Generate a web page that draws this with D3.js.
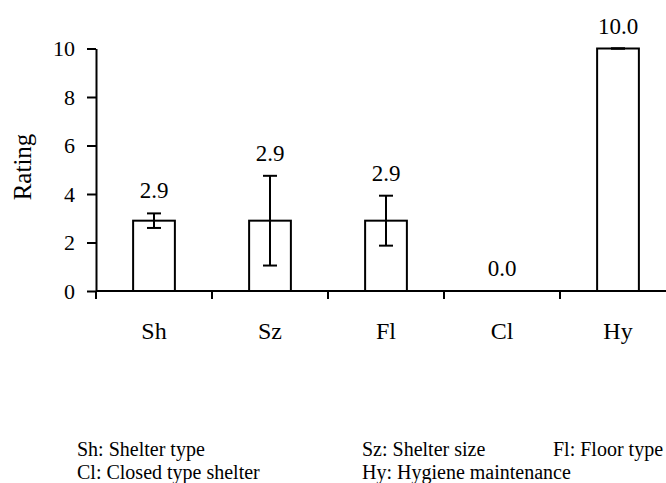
<!DOCTYPE html>
<html>
<head>
<meta charset="utf-8">
<script src="https://cdn.jsdelivr.net/npm/d3@7"></script>
<style>
  html, body { margin: 0; padding: 0; background: #fff; }
  svg { display: block; }
  svg text { font-family: "Liberation Serif", "Times New Roman", Times, "DejaVu Serif", serif !important; }
</style>
</head>
<body>
<svg id="chart" width="666" height="483"></svg>
<script>
// ---- data ----
const categories = ["Sh", "Sz", "Fl", "Cl", "Hy"];
const ratings = [2.9, 2.9, 2.9, 0.0, 10.0];
const errors = [0.3, 1.85, 1.03, 0, 0];
const yTicks = [0, 2, 4, 6, 8, 10];
const legendLines = [
  ["Sh: Shelter type", "Sz: Shelter size", "Fl: Floor type"],
  ["Cl: Closed type shelter", "Hy: Hygiene maintenance"]
];
const yLabel = "Rating";

(function () {
  const svg = d3.select("#chart");
  const mLeft = 96, mRight = 676, mTop = 48.5, mBottom = 291;

  const x = d3.scaleBand().domain(categories).range([mLeft, mRight])
    .paddingInner(0.64).paddingOuter(0.32);
  const y = d3.scaleLinear().domain([0, 10]).range([mBottom, mTop]);

  const data = categories.map((c, i) => ({ c, v: ratings[i], e: errors[i] }));

  // y axis
  const yAxis = svg.append("g").attr("transform", `translate(${mLeft},0)`)
    .call(d3.axisLeft(y).tickValues(yTicks).tickFormat(d3.format("d"))
      .tickSizeInner(9).tickSizeOuter(0).tickPadding(12));
  yAxis.attr("font-family", null);
  yAxis.selectAll("path, line").attr("stroke", "#000").attr("stroke-width", 2);
  yAxis.selectAll("text").attr("font-size", 22).attr("fill", "#000");

  // x axis line + boundary ticks
  const half = (x.step() - x.bandwidth()) / 2;
  const bounds = categories.map(c => x(c) - half)
    .concat([x(categories[categories.length - 1]) + x.bandwidth() + half]);
  svg.append("line").attr("x1", mLeft).attr("x2", mRight).attr("y1", y(0)).attr("y2", y(0))
    .attr("stroke", "#000").attr("stroke-width", 2);
  svg.selectAll(".xt").data(bounds).join("line").attr("class", "xt")
    .attr("x1", d => d).attr("x2", d => d).attr("y1", y(0)).attr("y2", y(0) + 8)
    .attr("stroke", "#000").attr("stroke-width", 2);

  // bars
  svg.selectAll(".bar").data(data).join("rect").attr("class", "bar")
    .attr("x", d => x(d.c)).attr("width", x.bandwidth())
    .attr("y", d => y(d.v)).attr("height", d => y(0) - y(d.v))
    .attr("fill", "#fff").attr("stroke", "#000").attr("stroke-width", 2);

  // error bars
  const cap = 7;
  const cx = d => x(d.c) + x.bandwidth() / 2;
  const eb = svg.selectAll(".eb").data(data.filter(d => d.v > 0)).join("g").attr("class", "eb");
  eb.append("line")
    .attr("x1", cx).attr("x2", cx)
    .attr("y1", d => y(d.v + d.e)).attr("y2", d => y(d.v - d.e))
    .attr("stroke", "#000").attr("stroke-width", 2);
  eb.append("line")
    .attr("x1", d => cx(d) - cap).attr("x2", d => cx(d) + cap)
    .attr("y1", d => y(d.v + d.e)).attr("y2", d => y(d.v + d.e))
    .attr("stroke", "#000").attr("stroke-width", 2);
  eb.append("line")
    .attr("x1", d => cx(d) - cap).attr("x2", d => cx(d) + cap)
    .attr("y1", d => y(d.v - d.e)).attr("y2", d => y(d.v - d.e))
    .attr("stroke", "#000").attr("stroke-width", 2);

  // value labels
  svg.selectAll(".vl").data(data).join("text").attr("class", "vl")
    .attr("x", cx)
    .attr("y", d => y(d.v + d.e) - 15)
    .attr("text-anchor", "middle").attr("font-size", 23).attr("fill", "#000")
    .text(d => d.v.toFixed(1));

  // category labels
  svg.selectAll(".cl").data(categories).join("text").attr("class", "cl")
    .attr("x", d => x(d) + x.bandwidth() / 2).attr("y", 339)
    .attr("text-anchor", "middle").attr("font-size", 24).attr("fill", "#000")
    .text(d => d);

  // y label
  svg.append("text").attr("transform", "translate(31,167) rotate(-90)")
    .attr("text-anchor", "middle").attr("font-size", 25).attr("fill", "#000")
    .text(yLabel);

  // legend
  const legendX = [77, 362, 553];
  legendLines.forEach((line, r) => {
    line.forEach((t, k) => {
      svg.append("text").attr("x", legendX[k]).attr("y", 456 + r * 23)
        .attr("font-size", 20).attr("fill", "#000").text(t);
    });
  });
})();
</script>
</body>
</html>
